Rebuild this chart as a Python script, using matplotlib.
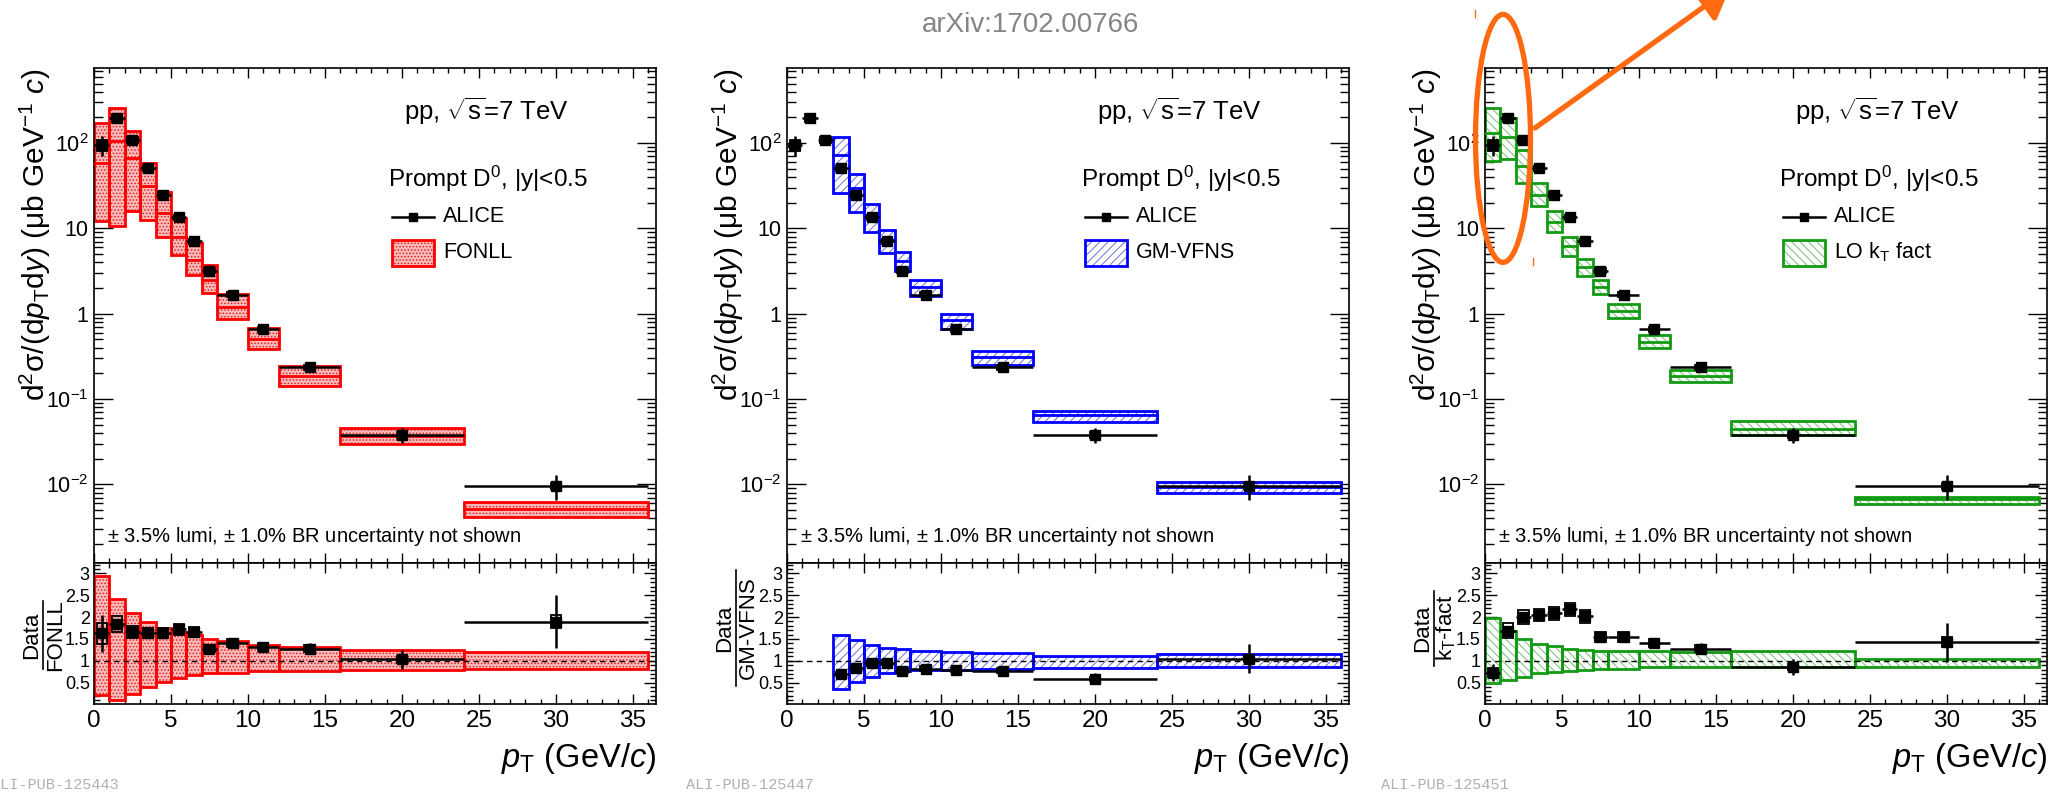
import matplotlib
matplotlib.use('Agg')
import matplotlib.pyplot as plt
from matplotlib.patches import Rectangle, Ellipse, FancyArrowPatch
from matplotlib.lines import Line2D
from matplotlib.ticker import FixedLocator, FixedFormatter, MultipleLocator, NullFormatter

plt.rcParams['font.family'] = ['Liberation Sans', 'DejaVu Sans']
plt.rcParams['mathtext.fontset'] = 'custom'
plt.rcParams['mathtext.rm'] = 'Liberation Sans'
plt.rcParams['mathtext.it'] = 'Liberation Sans:italic'
plt.rcParams['mathtext.bf'] = 'Liberation Sans:bold'
plt.rcParams['mathtext.default'] = 'regular'
plt.rcParams['hatch.linewidth'] = 0.7

# ---- data ----
pt_lo = [0, 1, 2, 3, 4, 5, 6, 7, 8, 10, 12, 16, 24]
pt_hi = [1, 2, 3, 4, 5, 6, 7, 8, 10, 12, 16, 24, 36]

# ALICE prompt D0 cross section (mub GeV^-1 c)
alice = [95, 197, 110, 50.8, 25.0, 13.6, 7.06, 3.19, 1.67, 0.66, 0.237, 0.0384, 0.0097]
alice_stat = [0.26, 0.06, 0.04, 0.04, 0.03, 0.03, 0.04, 0.05, 0.04, 0.07, 0.10, 0.21, 0.32]  # relative
alice_sys = [0.15, 0.10, 0.08, 0.07, 0.07, 0.07, 0.07, 0.07, 0.07, 0.07, 0.07, 0.08, 0.08]   # relative

# FONLL: central value and upper/lower edge relative to central
fonll_c = [58.3, 106.5, 66.3, 31.2, 15.2, 7.91, 4.25, 2.49, 1.19, 0.504, 0.185, 0.0373, 0.00513]
fonll_up = [2.94, 2.41, 2.10, 1.88, 1.74, 1.66, 1.59, 1.50, 1.45, 1.37, 1.31, 1.24, 1.20]
fonll_dn = [0.21, 0.10, 0.24, 0.40, 0.52, 0.61, 0.67, 0.71, 0.73, 0.76, 0.77, 0.80, 0.82]

# GM-VFNS starts at the 3-4 GeV/c bin
gm_first = 3
gm_c = [73.6, 29.8, 14.3, 7.35, 4.14, 2.04, 0.835, 0.308, 0.0651, 0.00924]
gm_up = [1.60, 1.47, 1.37, 1.30, 1.27, 1.22, 1.20, 1.18, 1.11, 1.15]
gm_dn = [0.35, 0.52, 0.63, 0.71, 0.76, 0.79, 0.80, 0.82, 0.83, 0.85]

# LO kT factorisation
kt_c = [130, 116.6, 54.7, 24.8, 12.0, 6.24, 3.50, 2.06, 1.08, 0.468, 0.185, 0.0447, 0.00683]
kt_up = [1.97, 1.69, 1.50, 1.38, 1.34, 1.28, 1.24, 1.22, 1.22, 1.22, 1.19, 1.23, 1.05]
kt_dn = [0.48, 0.56, 0.63, 0.73, 0.75, 0.77, 0.79, 0.82, 0.82, 0.86, 0.86, 0.86, 0.86]

log_ticks = [1e-2, 1e-1, 1, 10, 100]
log_labels = [r'$10^{-2}$', r'$10^{-1}$', '1', '10', r'$10^{2}$']
ratio_ticks = [0.5, 1, 1.5, 2, 2.5, 3]
ratio_labels = ['0.5', '1', '1.5', '2', '2.5', '3']

# ---- layout (pixels of the 2067x794 canvas) ----
W, H = 2067, 794
fig = plt.figure(figsize=(W / 100, H / 100), dpi=100)


def fx(px):
    return px / W


def fy(py):
    return 1 - py / H


PANEL_W = 562
TOP_Y0, TOP_Y1, RAT_Y1 = 68, 563, 704


def style_axes(ax, ratio):
    for s in ax.spines.values():
        s.set_linewidth(1.2)
    ax.set_xlim(0, 36.5)
    ax.xaxis.set_major_locator(MultipleLocator(5))
    ax.xaxis.set_minor_locator(MultipleLocator(1))
    ax.tick_params(which='both', direction='in', top=True, right=True, width=1)
    ax.tick_params(axis='x', which='major', length=7)
    ax.tick_params(axis='x', which='minor', length=3.6)
    if ratio:
        ax.set_ylim(0.01, 3.24)
        ax.yaxis.set_major_locator(FixedLocator(ratio_ticks))
        ax.yaxis.set_major_formatter(FixedFormatter(ratio_labels))
        ax.yaxis.set_minor_locator(MultipleLocator(0.1))
        ax.tick_params(axis='y', which='major', length=8.5, labelsize=13, pad=3)
        ax.tick_params(axis='y', which='minor', length=4)
        ax.tick_params(axis='x', labelsize=17.5, pad=4)
    else:
        ax.set_yscale('log')
        ax.set_ylim(1.2e-3, 7.6e2)
        ax.yaxis.set_major_locator(FixedLocator(log_ticks))
        ax.yaxis.set_major_formatter(FixedFormatter(log_labels))
        minors = [m * 10.0 ** e for e in range(-3, 3) for m in range(2, 10)]
        ax.yaxis.set_minor_locator(FixedLocator(minors))
        ax.yaxis.set_minor_formatter(NullFormatter())
        ax.tick_params(axis='y', which='major', length=14, labelsize=15.5, pad=4)
        ax.tick_params(axis='y', which='minor', length=6.5)
        ax.tick_params(axis='x', labelbottom=False)


def theory_box(ax, x0, x1, y0, y1, col, face, hcol, hatch, lw=2.0, z=2):
    ax.add_patch(Rectangle((x0, y0), x1 - x0, y1 - y0, facecolor=face, edgecolor=hcol,
                           hatch=hatch, lw=0, zorder=z))
    ax.add_patch(Rectangle((x0, y0), x1 - x0, y1 - y0, fill=False, edgecolor=col,
                           lw=lw, zorder=z + 0.1))


def data_points(ax, xc, xe, yv, stat, sys):
    for x, e, v, st, sy in zip(xc, xe, yv, stat, sys):
        ax.add_patch(Rectangle((x - 0.33, v * (1 - sy)), 0.66, v * 2 * sy, fill=False,
                               edgecolor='black', lw=1.3, zorder=5))
    ax.errorbar(xc, yv, xerr=xe, yerr=[v * s for v, s in zip(yv, stat)], fmt='s',
                color='black', ms=7, elinewidth=1.8, capsize=0, zorder=6)


def frac_label(ax, num, den, yc, y0, y1):
    ax.text(-0.111, yc, num, rotation=90, ha='center', va='center', fontsize=16,
            transform=ax.transAxes)
    ax.text(-0.069, yc, den, rotation=90, ha='center', va='center', fontsize=16,
            transform=ax.transAxes)
    ax.add_line(Line2D([-0.090, -0.090], [y0, y1], color='black', lw=1.2,
                       transform=ax.transAxes, clip_on=False))


panels = [
    dict(left=94, first=0, c=fonll_c, up=fonll_up, dn=fonll_dn, col='#ff0000',
         face='#f8baba', hcol='#e02020', hatch='.....', name='FONLL',
         den='FONLL', frac=(0.49, 0.25, 0.73), pub='ALI-PUB-125443', pub_x=-9),
    dict(left=787, first=gm_first, c=gm_c, up=gm_up, dn=gm_dn, col='#0000ff',
         face='white', hcol='#7070e0', hatch='////', name='GM-VFNS',
         den='GM-VFNS', frac=(0.54, 0.13, 0.95), pub='ALI-PUB-125447', pub_x=686),
    dict(left=1485, first=0, c=kt_c, up=kt_up, dn=kt_dn, col='#139a13',
         face='white', hcol='#70c070', hatch='\\\\\\\\', name=r'LO k$_{\rm T}$ fact',
         den=r'k$_{\rm T}$-fact', frac=(0.54, 0.27, 0.80), pub='ALI-PUB-125451', pub_x=1381),
]

xc = [(a + b) / 2 for a, b in zip(pt_lo, pt_hi)]
xe = [(b - a) / 2 for a, b in zip(pt_lo, pt_hi)]

for p in panels:
    ax = fig.add_axes([fx(p['left']), fy(TOP_Y1), PANEL_W / W, (TOP_Y1 - TOP_Y0) / H])
    axr = fig.add_axes([fx(p['left']), fy(RAT_Y1), PANEL_W / W, (RAT_Y1 - TOP_Y1) / H])
    style_axes(ax, False)
    style_axes(axr, True)

    f = p['first']
    for k, (c, up, dn) in enumerate(zip(p['c'], p['up'], p['dn'])):
        i = f + k
        theory_box(ax, pt_lo[i], pt_hi[i], c * dn, c * up, p['col'], p['face'], p['hcol'], p['hatch'])
        ax.plot([pt_lo[i], pt_hi[i]], [c, c], color=p['col'], lw=2.0, zorder=3)
        theory_box(axr, pt_lo[i], pt_hi[i], dn, up, p['col'], p['face'], p['hcol'], p['hatch'])

    data_points(ax, xc, xe, alice, alice_stat, alice_sys)

    ratio = [alice[f + k] / c for k, c in enumerate(p['c'])]
    data_points(axr, xc[f:], xe[f:], ratio, alice_stat[f:], alice_sys[f:])
    axr.axhline(1.0, color='black', lw=1.0, ls=(0, (4, 3)), zorder=4)

    # labels
    ax.text(-0.104, 1.0, r'd$^{2}\sigma$/(d$\mathit{p}_{\rm T}$d$\mathit{y}$) ($\mu$b GeV$^{-1}$ $\mathit{c}$)',
            rotation=90, ha='center', va='top', fontsize=21.5, transform=ax.transAxes)
    axr.text(1.0, -0.45, r'$\mathit{p}_{\rm T}$ (GeV/$\mathit{c}$)', ha='right', va='baseline',
             fontsize=23.5, transform=axr.transAxes)
    yc, y0, y1 = p['frac']
    frac_label(axr, 'Data', p['den'], yc, y0, y1)

    # in-plot texts and legend
    ax.text(0.552, 0.913, r'pp, $\sqrt{s}$=7 TeV', ha='left', va='center', fontsize=18.5,
            transform=ax.transAxes)
    ax.text(0.524, 0.775, r'Prompt D$^{0}$, |y|<0.5', ha='left', va='center', fontsize=17.5,
            transform=ax.transAxes)
    ax.add_line(Line2D([0.53, 0.605], [0.70, 0.70], color='black', lw=1.8, transform=ax.transAxes))
    ax.add_line(Line2D([0.5675], [0.70], color='black', marker='s', ms=6, transform=ax.transAxes))
    ax.text(0.621, 0.70, 'ALICE', ha='left', va='center', fontsize=15.5, transform=ax.transAxes)
    ax.add_patch(Rectangle((0.530, 0.600), 0.075, 0.052, facecolor=p['face'], edgecolor=p['hcol'],
                           hatch=p['hatch'], lw=0, transform=ax.transAxes))
    ax.add_patch(Rectangle((0.530, 0.600), 0.075, 0.052, fill=False, edgecolor=p['col'],
                           lw=2.0, transform=ax.transAxes))
    ax.text(0.621, 0.627, p['name'], ha='left', va='center', fontsize=15.5, transform=ax.transAxes)
    ax.text(0.024, 0.043, r'$\pm$ 3.5% lumi, $\pm$ 1.0% BR uncertainty not shown', ha='left',
            va='baseline', fontsize=14.5, transform=ax.transAxes)

    fig.text(fx(p['pub_x']), fy(792), p['pub'], family='Liberation Mono', fontsize=11,
             color='#b0b0b0', ha='left', va='bottom')

fig.text(fx(1031), fy(25), 'arXiv:1702.00766', ha='center', va='center', fontsize=20,
         color='#858585')

# orange highlight on the kT panel
orange = '#ff6a10'
fig.add_artist(Ellipse((fx(1503), fy(138.4)), 55 / W, 248 / H, fill=False, edgecolor=orange,
                       lw=3.8, transform=fig.transFigure))
fig.add_artist(FancyArrowPatch((fx(1535), fy(128)), (fx(1730), fy(-12)),
                               arrowstyle='-|>,head_length=18,head_width=11', color=orange,
                               lw=3.8, transform=fig.transFigure, shrinkA=0, shrinkB=0))
fig.add_artist(Line2D([fx(1475), fx(1475)], [fy(10), fy(17)], color=orange, lw=1,
                      transform=fig.transFigure))
fig.add_artist(Line2D([fx(1533), fx(1533)], [fy(258), fy(265)], color=orange, lw=1,
                      transform=fig.transFigure))

fig.savefig('out.png', dpi=100)
